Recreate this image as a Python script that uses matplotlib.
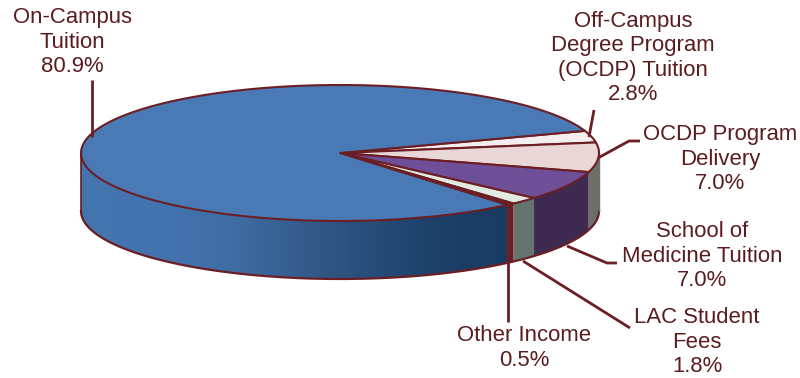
import matplotlib
matplotlib.use("Agg")
import matplotlib.pyplot as plt
from matplotlib.patches import Polygon
import numpy as np

plt.rcParams['font.family'] = ['Liberation Sans', 'DejaVu Sans']

labels = ["On-Campus\nTuition\n80.9%",
          "Off-Campus\nDegree Program\n(OCDP) Tuition\n2.8%",
          "OCDP Program\nDelivery\n7.0%",
          "School of\nMedicine Tuition\n7.0%",
          "LAC Student\nFees\n1.8%",
          "Other Income\n0.5%"]
# clockwise, starting from the Off-Campus slice
slice_names = ["Off-Campus", "OCDP Delivery", "Medicine", "LAC", "Other", "On-Campus"]
shares = [2.8, 7.0, 7.0, 1.8, 0.5, 80.9]
top_colors = ["#f4eeee", "#e9d6d6", "#6f4f98", "#e2ebe2", "#6b1f24", "#4a7ab5"]
wall_colors = ["#6d7068", "#6d7068", "#3e2a50", "#66746f", "#6b1f24", None]
line_color = "#6b1f24"
text_color = "#5a1c1e"

cx, cy, rx, ry, depth = 340, 153, 259, 68, 58
start = 19

fig = plt.figure(figsize=(8, 3.78), dpi=100)
ax = fig.add_axes([0, 0, 1, 1])
ax.set_xlim(0, 800)
ax.set_ylim(378, 0)
ax.axis("off")


def rim(a0, a1, dy=0, n=200):
    t = np.radians(np.linspace(a0, a1, n))
    return np.column_stack([cx + rx * np.cos(t), cy + dy - ry * np.sin(t)])


# slice angles, going clockwise
angles = start - np.concatenate([[0], np.cumsum(shares)]) * 3.6

# walls first (only the front half of the pie shows)
for i in range(len(shares)):
    a0, a1 = angles[i], angles[i + 1]
    if slice_names[i] == "On-Campus":
        a1 = -180
    a0 = min(a0, 0)
    if a1 >= a0:
        continue
    upper = rim(a0, a1)
    lower = rim(a1, a0, depth)
    poly = Polygon(np.vstack([upper, lower]), closed=True, facecolor="none",
                   edgecolor="none", zorder=2)
    ax.add_patch(poly)
    if wall_colors[i] is None:
        # blue wall gets darker towards the right
        grad = np.array([[0.27, 0.46, 0.69], [0.26, 0.45, 0.68], [0.21, 0.37, 0.56],
                         [0.14, 0.29, 0.46], [0.10, 0.23, 0.38]])
        im = ax.imshow(grad[np.newaxis, :, :], extent=(81, 510, 378, 0),
                       interpolation="bicubic", aspect="auto", zorder=2)
        im.set_clip_path(poly)
        ax.set_xlim(0, 800)
        ax.set_ylim(378, 0)
    else:
        poly.set_facecolor(wall_colors[i])

# bottom outline and the two side lines of the wall
ax.plot(*rim(0, -180, depth).T, color=line_color, lw=1.6, zorder=3)
ax.plot([cx + rx, cx + rx], [cy, cy + depth], color="#6d7068", lw=1, zorder=3)
ax.plot([cx - rx, cx - rx], [cy, cy + depth], color=line_color, lw=1.2, zorder=3)

# top face
for i in range(len(shares)):
    pts = np.vstack([[cx, cy], rim(angles[i], angles[i + 1])])
    ax.add_patch(Polygon(pts, closed=True, facecolor=top_colors[i], edgecolor=line_color,
                         lw=1.5, joinstyle="round", zorder=4))

# leader lines
leaders = [([92, 92], [80, 137]),
           ([594, 589], [110, 137]),
           ([640, 629, 598], [141, 141, 158]),
           ([617, 607, 567], [263, 263, 246]),
           ([630, 523], [328, 261]),
           ([508, 508], [206, 322])]
for xs, ys in leaders:
    ax.plot(xs, ys, color=line_color, lw=2, zorder=5, solid_capstyle="butt")

# labels
text_pos = [(72, 42), (633, 58), (720, 159), (702, 256), (697, 342), (524, 348)]
for lab, (x, y) in zip(labels, text_pos):
    ax.text(x, y, lab, ha="center", va="center", fontsize=15.9, color=text_color,
            linespacing=1.19, zorder=6)

fig.savefig("out.png", dpi=100)
